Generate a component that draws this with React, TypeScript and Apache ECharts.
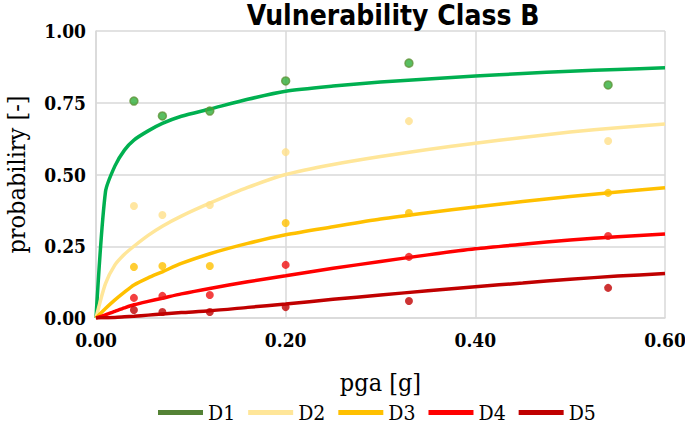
import React, { useEffect, useRef } from "react";
import * as echarts from "echarts";

const seriesNames = ["D1", "D2", "D3", "D4", "D5"];
const pointX = [0.04, 0.07, 0.12, 0.2, 0.33, 0.54];
const pointsD1 = [0.756, 0.704, 0.721, 0.826, 0.888, 0.812];
const pointsD2 = [0.39, 0.359, 0.394, 0.578, 0.686, 0.617];
const pointsD3 = [0.178, 0.181, 0.181, 0.331, 0.366, 0.436];
const pointsD4 = [0.07, 0.077, 0.08, 0.185, 0.213, 0.286];
const pointsD5 = [0.028, 0.021, 0.021, 0.038, 0.059, 0.105];

const curveX = [0, 0.01, 0.02, 0.03, 0.04, 0.055, 0.07, 0.09, 0.12, 0.16, 0.2, 0.25, 0.3, 0.35, 0.4, 0.45, 0.5, 0.55, 0.6];
const curveD1 = [0, 0.44, 0.53, 0.585, 0.62, 0.652, 0.678, 0.703, 0.728, 0.762, 0.79, 0.808, 0.822, 0.833, 0.843, 0.852, 0.86, 0.866, 0.872];
const curveD2 = [0, 0.12, 0.185, 0.222, 0.25, 0.288, 0.32, 0.355, 0.4, 0.455, 0.5, 0.535, 0.563, 0.587, 0.609, 0.629, 0.648, 0.663, 0.676];
const curveD3 = [0, 0.033, 0.063, 0.09, 0.115, 0.14, 0.161, 0.19, 0.224, 0.26, 0.29, 0.318, 0.345, 0.367, 0.387, 0.406, 0.423, 0.439, 0.454];
const curveD4 = [0, 0.011, 0.023, 0.035, 0.046, 0.058, 0.069, 0.084, 0.103, 0.126, 0.147, 0.173, 0.197, 0.22, 0.241, 0.257, 0.272, 0.283, 0.293];
const curveD5 = [0, 0.001, 0.002, 0.004, 0.006, 0.01, 0.014, 0.019, 0.025, 0.037, 0.049, 0.065, 0.08, 0.095, 0.109, 0.122, 0.135, 0.146, 0.155];

const xTicks = [0, 0.2, 0.4, 0.6];
const yTicks = [0, 0.25, 0.5, 0.75, 1.0];

const lineColors = ["#00B050", "#FFE699", "#FFC000", "#FF0000", "#C00000"];
const legendColors = ["#548235", "#FFE699", "#FFC000", "#FF0000", "#C00000"];
const markerColors = ["#2fae3a", "#FFE08A", "#FFC000", "#F01010", "#C00000"];
const markerBorders = ["#5f953a", "#FFE08A", "#FFC000", "#F01010", "#C00000"];

const serif = "'DejaVu Serif Condensed', 'DejaVu Serif', 'Liberation Serif', serif";

export default function App() {
  const ref = useRef<HTMLDivElement>(null);
  useEffect(() => {
    if (!ref.current) return;
    const chart = echarts.init(ref.current, null, { renderer: "svg" });
    const curves = [curveD1, curveD2, curveD3, curveD4, curveD5];
    const points = [pointsD1, pointsD2, pointsD3, pointsD4, pointsD5];
    const series: any[] = [];
    seriesNames.forEach((name, i) => {
      series.push({
        name,
        type: "line",
        data: curveX.map((x, j) => [x, curves[i][j]]),
        smooth: 0.25,
        showSymbol: false,
        symbol: "none",
        lineStyle: { color: lineColors[i], width: 3.5 },
        itemStyle: { color: legendColors[i] },
        z: 2,
      });
    });
    seriesNames.forEach((name, i) => {
      series.push({
        name: name + " obs",
        type: "scatter",
        data: pointX.map((x, j) => [x, points[i][j]]),
        symbolSize: 8,
        itemStyle: {
          color: markerColors[i],
          borderColor: markerBorders[i],
          borderWidth: i === 0 ? 1.5 : 0,
        },
        z: 3,
      });
    });
    chart.setOption({
      animation: false,
      backgroundColor: "#ffffff",
      title: {
        text: "Vulnerability Class B",
        left: 388,
        textAlign: "center",
        top: -4,
        textStyle: {
          fontFamily: "'Liberation Sans Narrow', 'DejaVu Sans Condensed', 'Liberation Sans', sans-serif",
          fontWeight: "bold",
          fontSize: 28,
          color: "#000",
        },
      },
      legend: {
        data: seriesNames,
        top: 402,
        left: 158,
        padding: 0,
        icon: "rect",
        itemWidth: 45,
        itemHeight: 5,
        itemGap: 13,
        textStyle: { fontFamily: serif, fontSize: 21, color: "#000" },
      },
      grid: { left: 96, right: 20, top: 31, bottom: 106, outerBoundsMode: "none", containLabel: false },
      xAxis: {
        type: "value",
        min: 0,
        max: 0.6,
        interval: 0.2,
        name: "pga [g]",
        nameLocation: "middle",
        nameGap: 52,
        nameTextStyle: { fontFamily: serif, fontSize: 25, color: "#000" },
        axisLine: { show: true, lineStyle: { color: "#d9d9d9", width: 1.5 } },
        axisTick: { show: false },
        splitLine: { show: true, lineStyle: { color: "#d9d9d9", width: 1.5 } },
        axisLabel: {
          fontFamily: serif,
          fontWeight: "bold",
          fontSize: 19,
          color: "#000",
          margin: 12,
          formatter: (v: number) => (xTicks.includes(Math.round(v * 100) / 100) ? v.toFixed(2) : ""),
        },
      },
      yAxis: {
        type: "value",
        min: 0,
        max: 1,
        interval: 0.25,
        name: "probabiliry [-]",
        nameLocation: "middle",
        nameGap: 67,
        nameTextStyle: { fontFamily: serif, fontSize: 25, color: "#000" },
        axisLine: { show: true, lineStyle: { color: "#d9d9d9", width: 1.5 } },
        axisTick: { show: false },
        splitLine: { show: true, lineStyle: { color: "#d9d9d9", width: 1.5 } },
        axisLabel: {
          fontFamily: serif,
          fontWeight: "bold",
          fontSize: 19,
          color: "#000",
          margin: 10,
          formatter: (v: number) => (yTicks.includes(v) ? v.toFixed(2) : ""),
        },
      },
      series,
    });
    return () => chart.dispose();
  }, []);
  return <div ref={ref} style={{ width: 685, height: 424, position: "absolute", left: 0, top: 0 }} />;
}
